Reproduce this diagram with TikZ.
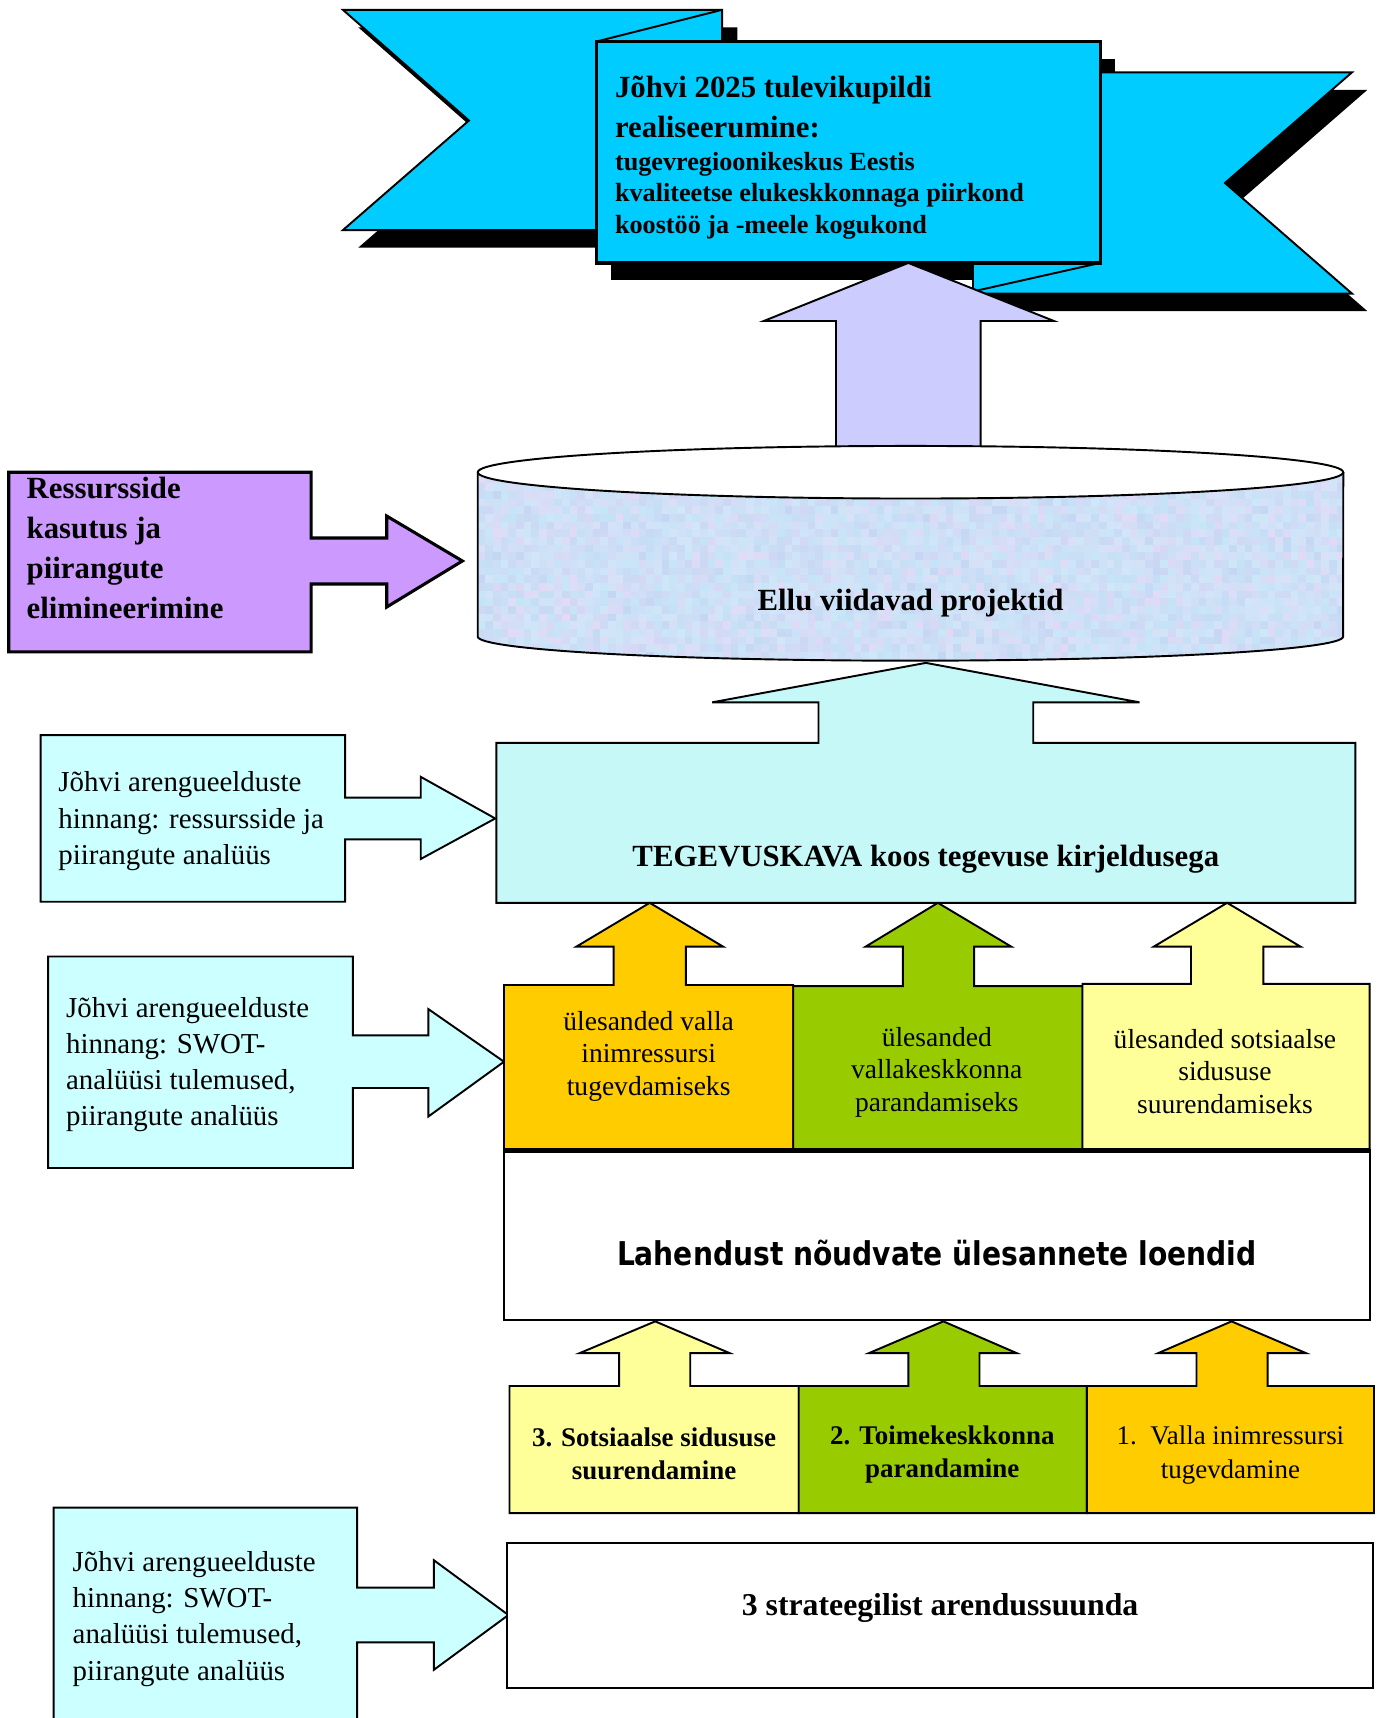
\documentclass[tikz,border=0pt]{standalone}
\usepackage{fontspec}
\setmainfont{Liberation Serif}
\newfontfamily\widesans{DejaVu Sans}[FakeStretch=0.86]

\definecolor{ribboncyan}{HTML}{00CCFF}
\definecolor{arrowlilac}{HTML}{CCCCFF}
\definecolor{boxviolet}{HTML}{CC99FF}
\definecolor{paleaqua}{HTML}{CCFFFF}
\definecolor{planaqua}{HTML}{C6F8F8}
\definecolor{taskorange}{HTML}{FFCC00}
\definecolor{taskgreen}{HTML}{99CC00}
\definecolor{taskyellow}{HTML}{FFFF99}
\definecolor{texblue}{HTML}{C4D6F2}
\definecolor{texpink}{HTML}{E6DAF7}
\definecolor{texcyan}{HTML}{C6EEFA}

\begin{document}
\begin{tikzpicture}[x=0.02cm, y=-0.02cm,
  boxline/.style={draw=black, line width=1pt, line join=miter},
  heavyline/.style={boxline, line width=1.6pt},
  shadow/.style={fill=black},
  calltext/.style={inner sep=0pt, align=left, anchor=west, font=\fontsize{15}{18.8}\selectfont},
  tasktext/.style={inner sep=0pt, align=center, font=\fontsize{14.3}{16.8}\selectfont},
  dirtext/.style={inner sep=0pt, align=center, font=\fontsize{14}{17.2}\selectfont},
  headtext/.style={inner sep=0pt, font=\fontsize{16}{19}\selectfont\bfseries}]
  \useasboundingbox (0,0) rectangle (1257,1568);
  % ribbon shadows first so the ribbon sits on top of them
  \fill [shadow] (327,25) -- (673,25) -- (673,226) -- (327,226) -- (442,126) -- cycle;
  \fill [shadow] (1018,82) -- (1248,82) -- (1132,183) -- (1248,284) -- (902,284) -- (902,82) -- cycle;
  \fill [shadow] (558,54) rectangle (1018,256);
  % ribbon ends and folds
  \draw [boxline, fill=ribboncyan] (313,9) -- (659,9) -- (659,210) -- (313,210) -- (428,110) -- cycle;
  \draw [boxline, fill=ribboncyan] (1004,66) -- (1234,66) -- (1118,167) -- (1234,268) -- (888,268) -- (888,66) -- cycle;
  \draw [boxline] (659,9) -- (544,38);
  \draw [boxline] (1004,240) -- (888,266);
  % vision box
  \draw [heavyline, fill=ribboncyan] (544,38) rectangle (1004,240);
  \node [inner sep=0pt, align=left, anchor=west, font=\fontsize{16}{21}\selectfont\bfseries] (visiontitle) at (561,97.5) {Jõhvi 2025 tulevikupildi\\realiseerumine:};
  \node [inner sep=0pt, align=left, anchor=west, font=\fontsize{13.6}{16.5}\selectfont\bfseries] (visionlist) at (561,178.5) {tugevregioonikeskus Eestis\\kvaliteetse elukeskkonnaga piirkond\\koostöö ja -meele kogukond};
  % arrow from projects up to the vision
  \draw [boxline, fill=arrowlilac] (763,420) -- (763,293) -- (697,293) -- (829,240) -- (962,293) -- (895,293) -- (895,420) -- cycle;
  % projects cylinder with its speckled side
  \begin{scope}
    \clip (436,431) -- (436,581) arc [start angle=180, end angle=360, x radius=7.9cm, y radius=0.44cm] -- (1226,431) -- cycle;
    \pgfmathsetseed{2025}
    \foreach \i in {0,...,113} {
      \foreach \j in {0,...,26} {
        \pgfmathtruncatemacro{\mixa}{random(10,100)}
        \pgfmathtruncatemacro{\mixb}{random(35,100)}
        \fill [texblue!\mixa!texpink!\mixb!texcyan] (436+7*\i, 420+7*\j) rectangle ++(7,7);
      }
    }
  \end{scope}
  \draw [boxline] (436,431) -- (436,581) arc [start angle=180, end angle=360, x radius=7.9cm, y radius=0.44cm] -- (1226,431);
  \draw [boxline, fill=white] (831,431) ellipse [x radius=7.9cm, y radius=0.48cm];
  \node [headtext] (projects) at (831,550.5) {Ellu viidavad projektid};
  % resources callout
  \draw [heavyline, fill=boxviolet] (8,431) -- (284,431) -- (284,491) -- (353,491) -- (353,471) -- (422,512) -- (353,554) -- (353,533) -- (284,533) -- (284,595) -- (8,595) -- cycle;
  \node [inner sep=0pt, align=left, anchor=west, font=\fontsize{16}{20.9}\selectfont\bfseries] (resources) at (24,500) {Ressursside\\kasutus ja\\piirangute\\elimineerimine};
  % action plan box with arrow to the cylinder
  \draw [boxline, fill=planaqua] (453,678) -- (747,678) -- (747,641) -- (650,641) -- (845,605) -- (1040,641) -- (943,641) -- (943,678) -- (1237,678) -- (1237,824) -- (453,824) -- cycle;
  \node [headtext] (actionplan) at (845,784.5) {TEGEVUSKAVA koos tegevuse kirjeldusega};
  % assessment callouts on the left
  \draw [boxline, fill=paleaqua] (37,671) -- (315,671) -- (315,728) -- (384,728) -- (384,709) -- (452,747) -- (384,784) -- (384,766) -- (315,766) -- (315,823) -- (37,823) -- cycle;
  \node [calltext] (assessA) at (53,749.5) {Jõhvi arengueelduste\\hinnang: ressursside ja\\piirangute analüüs};
  \draw [boxline, fill=paleaqua] (44,873) -- (322,873) -- (322,945) -- (391,945) -- (391,921) -- (460,969) -- (391,1019) -- (391,993) -- (322,993) -- (322,1066) -- (44,1066) -- cycle;
  \node [calltext] (assessB) at (60,971.5) {Jõhvi arengueelduste\\hinnang: SWOT-\\analüüsi tulemused,\\piirangute analüüs};
  \draw [boxline, fill=paleaqua] (49,1580) -- (49,1376) -- (326,1376) -- (326,1449) -- (396,1449) -- (396,1424) -- (464,1474) -- (396,1524) -- (396,1499) -- (326,1499) -- (326,1580);
  \node [calltext] (assessC) at (66,1477.5) {Jõhvi arengueelduste\\hinnang: SWOT-\\analüüsi tulemused,\\piirangute analüüs};
  % task boxes with arrows to the action plan
  \draw [boxline, fill=taskorange] (460,899) -- (560,899) -- (560,864) -- (526,864) -- (593,824) -- (660,864) -- (626,864) -- (626,899) -- (724,899) -- (724,1050) -- (460,1050) -- cycle;
  \draw [boxline, fill=taskgreen] (724,900) -- (824,900) -- (824,864) -- (790,864) -- (856,824) -- (923,864) -- (889,864) -- (889,900) -- (988,900) -- (988,1050) -- (724,1050) -- cycle;
  \draw [boxline, fill=taskyellow] (988,898) -- (1087,898) -- (1087,864) -- (1053,864) -- (1120,824) -- (1187,864) -- (1153,864) -- (1153,898) -- (1250,898) -- (1250,1050) -- (988,1050) -- cycle;
  \node [tasktext] (taskA) at (592,964) {ülesanded valla\\inimressursi\\tugevdamiseks};
  \node [tasktext] (taskB) at (855,978.5) {ülesanded\\vallakeskkonna\\parandamiseks};
  \node [tasktext] (taskC) at (1118,978) {ülesanded sotsiaalse\\sidususe\\suurendamiseks};
  % task lists box
  \draw [boxline, fill=white] (460,1050) rectangle (1250,1205);
  \draw [line width=2.6pt] (460,1050) -- (1250,1050);
  \node [inner sep=0pt, font=\fontsize{17}{20}\selectfont\widesans\bfseries] (tasklists) at (855,1144) {Lahendust nõudvate ülesannete loendid};
  % strategic directions with arrows to the task lists
  \draw [boxline, fill=taskyellow] (465,1265) -- (565,1265) -- (565,1235) -- (529,1235) -- (598,1206) -- (666,1235) -- (630,1235) -- (630,1265) -- (729,1265) -- (729,1381) -- (465,1381) -- cycle;
  \draw [boxline, fill=taskgreen] (729,1265) -- (829,1265) -- (829,1235) -- (793,1235) -- (861,1206) -- (928,1235) -- (894,1235) -- (894,1265) -- (992,1265) -- (992,1381) -- (729,1381) -- cycle;
  \draw [boxline, fill=taskorange] (992,1265) -- (1092,1265) -- (1092,1235) -- (1057,1235) -- (1124,1206) -- (1192,1235) -- (1157,1235) -- (1157,1265) -- (1254,1265) -- (1254,1381) -- (992,1381) -- cycle;
  \node [dirtext, font=\fontsize{14}{17.2}\selectfont\bfseries] (dirC) at (597,1327) {3. Sotsiaalse sidususe\\suurendamine};
  \node [dirtext, font=\fontsize{14}{17.2}\selectfont\bfseries] (dirB) at (860,1327.5) {2. Toimekeskkonna\\parandamine};
  \node [dirtext, font=\fontsize{14}{18}\selectfont] (dirA) at (1123,1328) {1.\ \ Valla inimressursi\\tugevdamine};
  % three strategic directions
  \draw [boxline, fill=white] (463,1408) rectangle (1253,1541);
  \node [headtext, font=\fontsize{16.5}{20}\selectfont\bfseries] (directions) at (858,1467.5) {3 strateegilist arendussuunda};
\end{tikzpicture}
\end{document}
